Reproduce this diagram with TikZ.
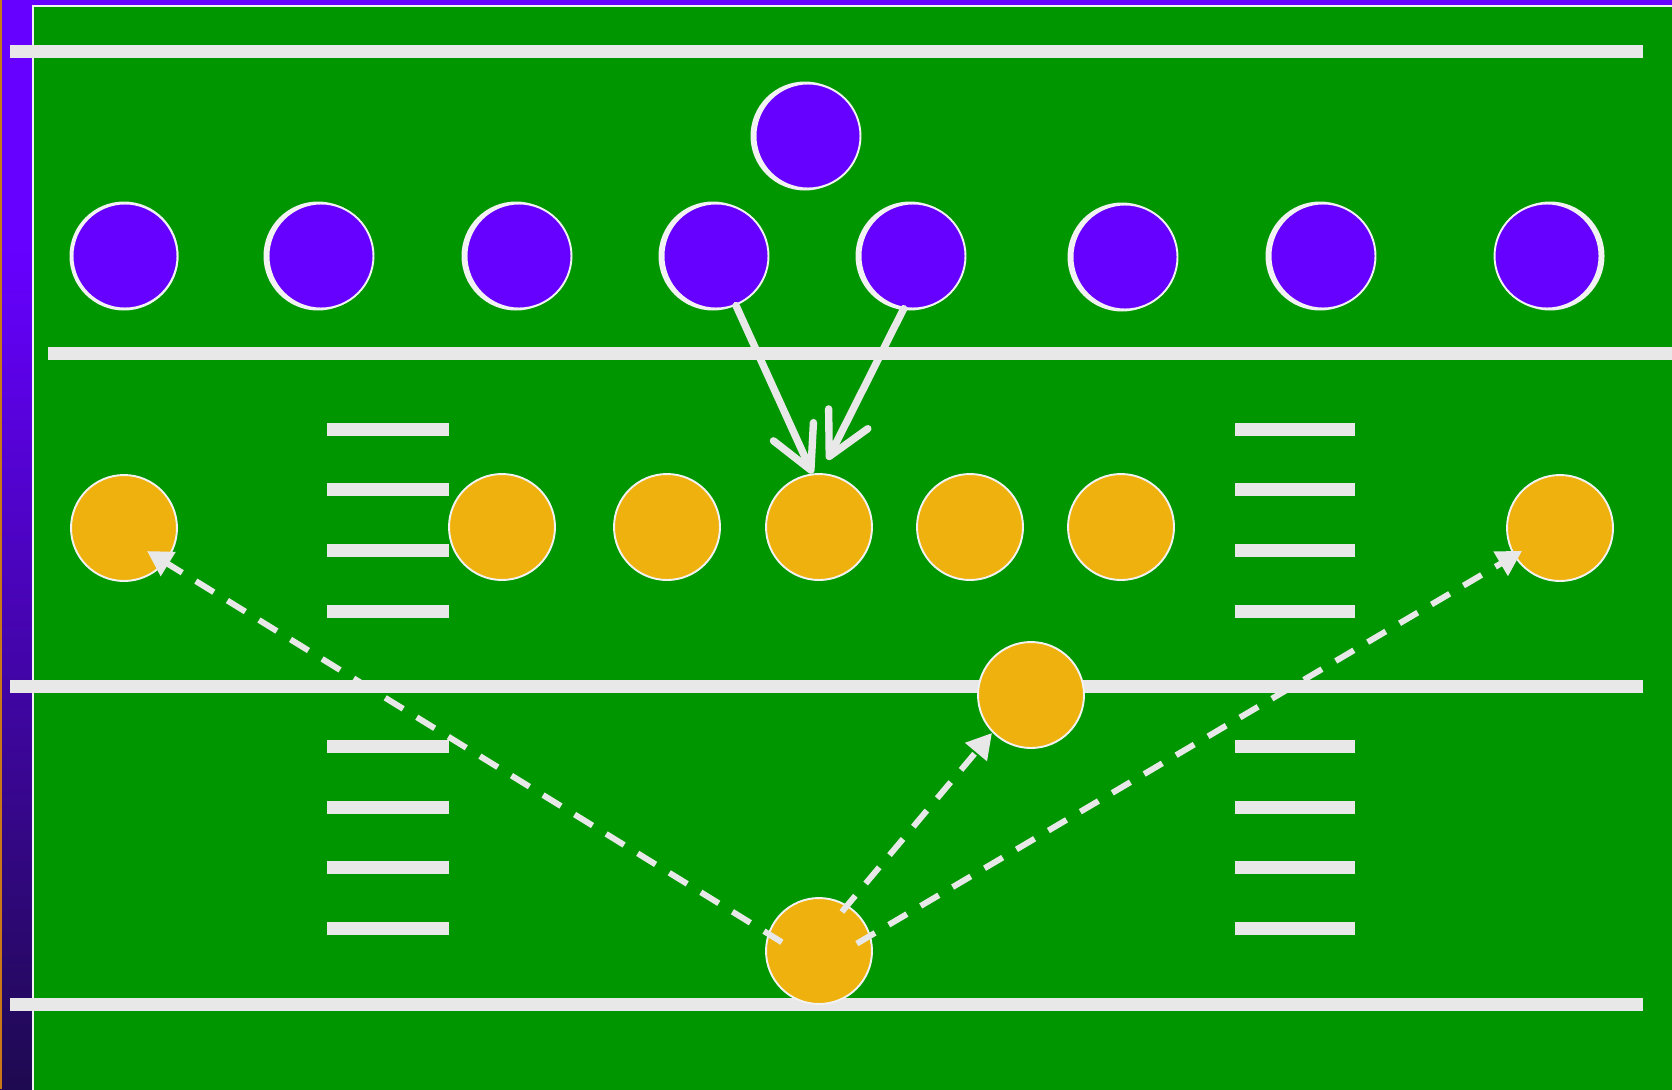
\documentclass[tikz,border=0pt]{standalone}
\usetikzlibrary{arrows.meta}
\definecolor{fieldgreen}{HTML}{009600}
\definecolor{defpurple}{HTML}{6600FF}
\definecolor{offyellow}{HTML}{EFB10E}
\definecolor{chalk}{HTML}{E8E8E8}
\definecolor{rim}{HTML}{F2F2F2}
\definecolor{stripdark}{HTML}{1E0A50}
\definecolor{edgeorange}{HTML}{C87818}
\begin{document}
\begin{tikzpicture}[x=0.02cm,y=-0.02cm,
  yardline/.style={chalk, line width=7.4pt},
  hashmark/.style={chalk, line width=7.4pt},
  defender/.style={circle, fill=defpurple, draw=rim, line width=1.1pt, inner sep=0pt, minimum size=2.1cm},
  backing/.style={fill=rim},
  offense/.style={circle, fill=offyellow, draw=rim, line width=1.1pt, inner sep=0pt, minimum size=2.12cm},
  rush/.style={chalk, line width=4.2pt, line cap=round, -{Straight Barb[length=24pt,width=25pt,round]}},
  pass/.style={chalk, line width=3.4pt, dash pattern=on 12pt off 9.1pt, -{Triangle[length=14.2pt,width=15.4pt]}}]
\useasboundingbox (0,0) rectangle (1672,1089);
\clip (0,0) rectangle (1672,1089);
% background strip
\fill[defpurple] (0,0) rectangle (1672,1089);
\shade[top color=defpurple, bottom color=stripdark] (0,250) rectangle (34,1089);
\fill[edgeorange] (0,0) rectangle (1.5,1089);
% field
\filldraw[fill=fieldgreen, draw=rim, line width=1.14pt] (33,6) rectangle (1700,1120);
% yard lines
\draw[yardline] (10,51) -- (1643,51);
\draw[yardline] (48,353) -- (1690,353);
\draw[yardline] (10,686) -- (1643,686);
\draw[yardline] (10,1004) -- (1643,1004);
% hash marks
\foreach \y in {429.5,489.5,550,611,746,807,867,928}{
  \draw[hashmark] (327,\y) -- (449,\y);
  \draw[hashmark] (1235,\y) -- (1355,\y);
}
% defenders (white backing circle slightly offset)
\foreach \cx/\cy/\dx in {808/136/-3,125/256/-1,321/256/-3,519/256/-3,716/256/-3,913/256/-3,1125/257/-3,1323/256/-3,1547/256/3}{
  \fill[backing] (\cx+\dx,\cy) circle (54.5);
}
\node[defender] (d0) at (808,136) {};
\node[defender] (d1) at (125,256) {};
\node[defender] (d2) at (321,256) {};
\node[defender] (d3) at (519,256) {};
\node[defender] (d4) at (716,256) {};
\node[defender] (d5) at (913,256) {};
\node[defender] (d6) at (1125,257) {};
\node[defender] (d7) at (1323,256) {};
\node[defender] (d8) at (1547,256) {};
% offense
\node[offense] (o1) at (124,528) {};
\node[offense] (o2) at (502,527) {};
\node[offense] (o3) at (667,527) {};
\node[offense] (o4) at (819,527) {};
\node[offense] (o5) at (970,527) {};
\node[offense] (o6) at (1121,527) {};
\node[offense] (o7) at (1560,528) {};
\node[offense] (o8) at (1031,695) {};
\node[offense] (qb) at (819,951) {};
% rush arrows
\draw[rush] (d4.292) -- (o4.97);
\draw[rush, shorten >=8.5pt] (d5.260) -- (o4.88);
% pass routes
\draw[pass, shorten <=24.8pt] ([yshift=-8pt]qb.center) -- ([xshift=13.1pt,yshift=-13.1pt]o1.center);
\draw[pass, shorten <=25pt] ([yshift=-8.5pt]qb.center) -- ([xshift=-21.6pt,yshift=-13.1pt]o7.center);
\draw[pass, shorten <=20.2pt] ([yshift=6.8pt]qb.center) -- ([xshift=-22.2pt,yshift=-21.6pt]o8.center);
\end{tikzpicture}
\end{document}
